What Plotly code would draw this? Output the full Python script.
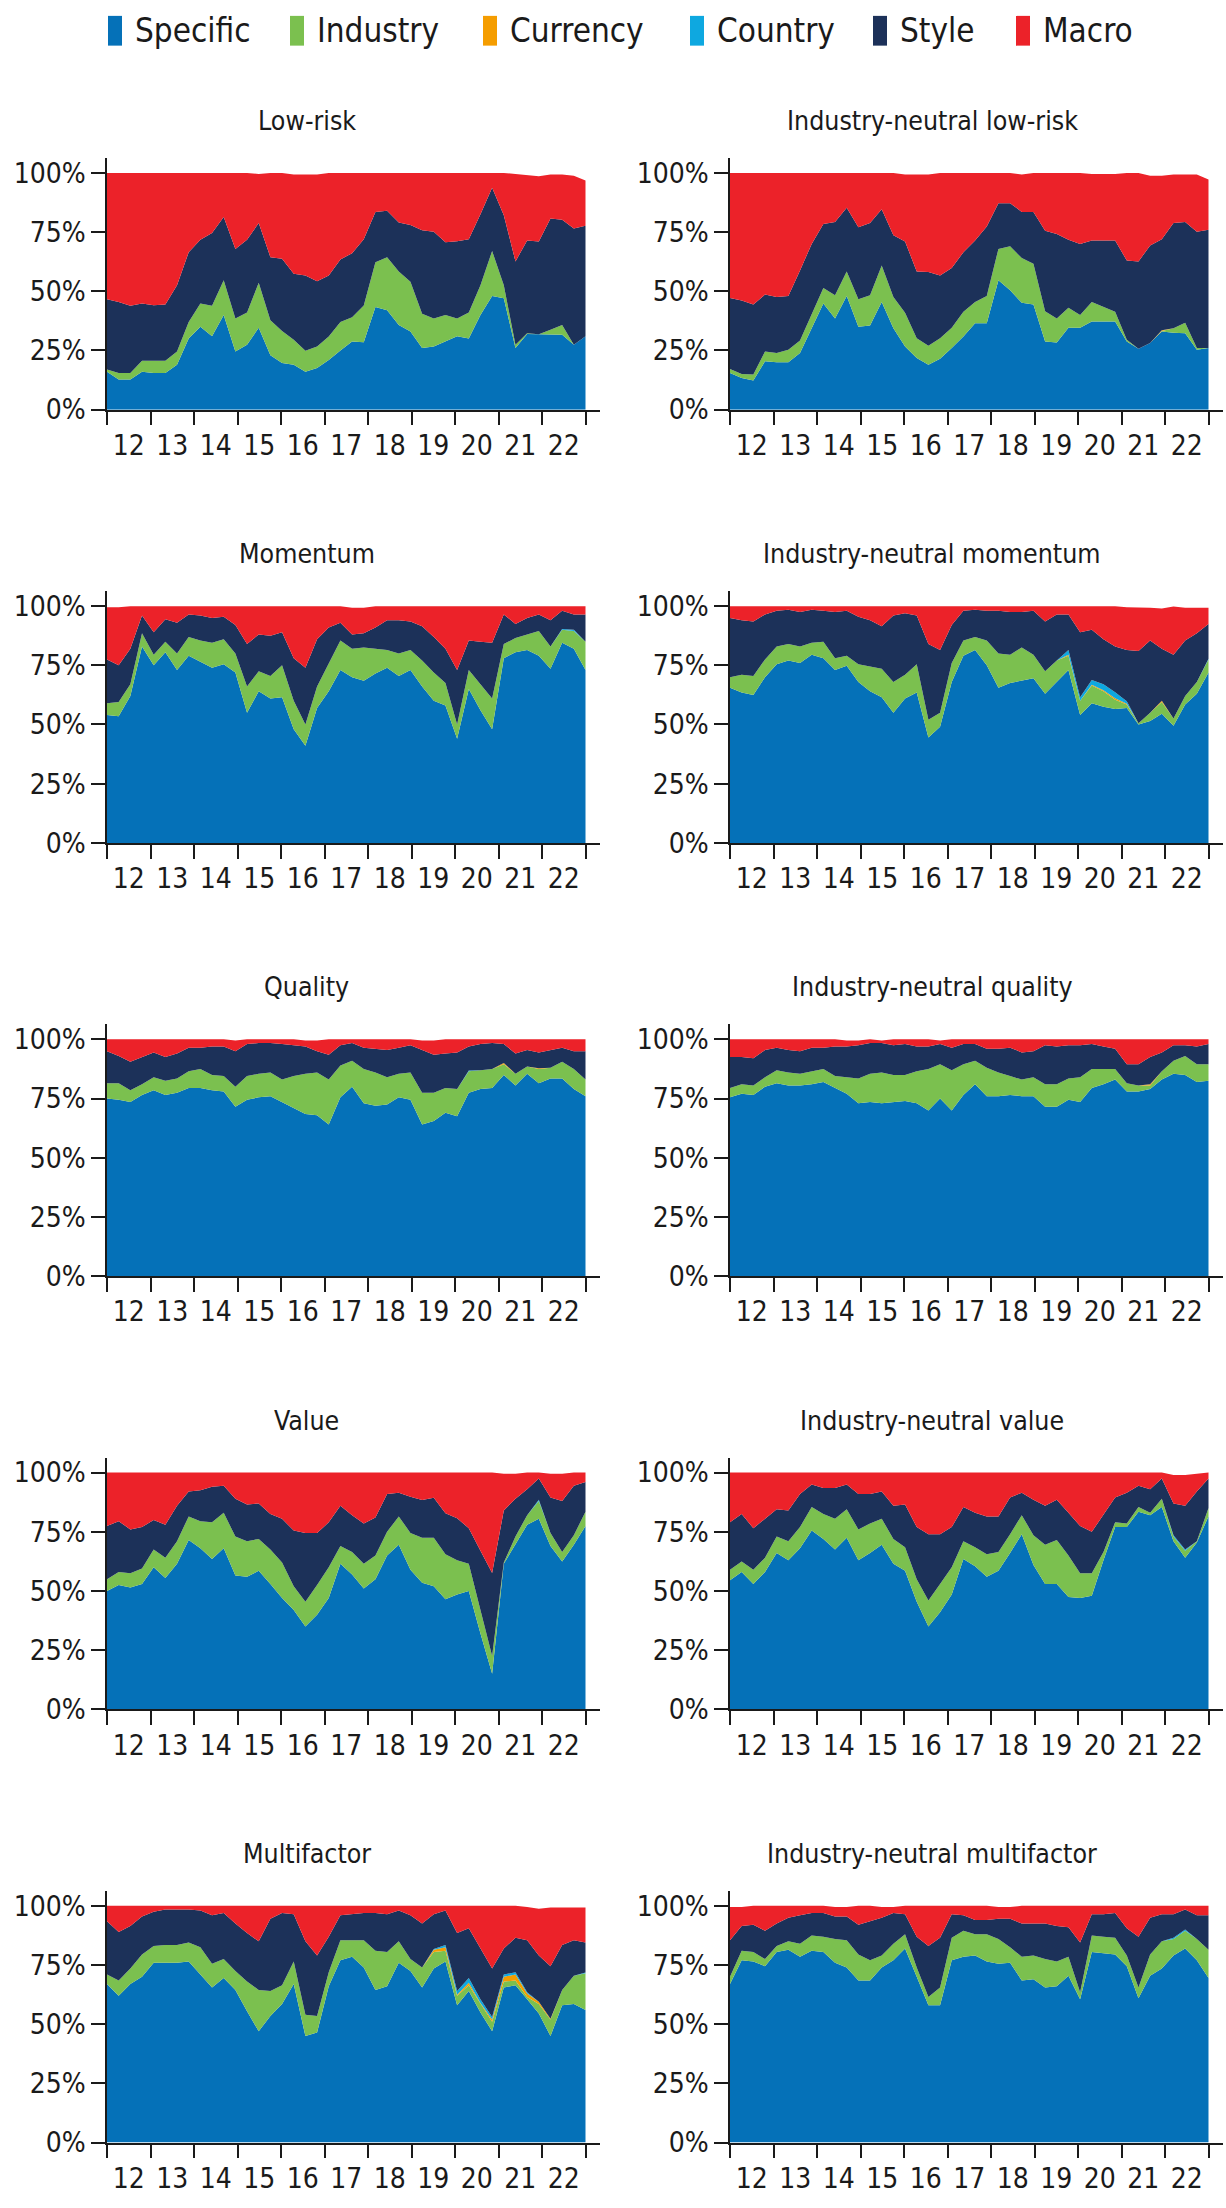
import numpy as np
import plotly.graph_objects as go

# ---------------------------------------------------------------------------
# Data: share of tracking-error variance by risk source (in %), per strategy
# ---------------------------------------------------------------------------
FACTORS = ["Specific", "Industry", "Currency", "Country", "Style", "Macro"]
FACTOR_COLORS = ["#0571B8", "#7BC04F", "#F59D00", "#0EA8E0", "#1C3159", "#EC2229"]
YEAR_LABELS = ["12", "13", "14", "15", "16", "17", "18", "19", "20", "21", "22"]
PCT_TICKS = [0, 25, 50, 75, 100]
PCT_LABELS = ["0%", "25%", "50%", "75%", "100%"]

N_OBS = 42
# observations are evenly spaced across the eleven labelled years
obs_pos = np.linspace(0, 11, N_OBS)

LOWRISK_SPECIFIC = [16.0, 12.7, 12.7, 16.0, 15.5, 15.5, 19.0, 30.0, 35.0, 31.0, 40.0, 24.6, 27.4, 34.6, 23.0, 19.7, 19.0, 16.0, 17.6, 21.0, 25.0, 28.8, 28.5, 43.4, 42.0, 35.8, 33.0, 26.0, 26.7, 29.0, 31.0, 30.0, 40.0, 48.0, 47.0, 26.0, 32.0, 31.8, 31.8, 31.6, 27.4, 31.0]
LOWRISK_INDUSTRY = [1.0, 2.8, 2.8, 4.7, 5.2, 5.2, 5.6, 7.0, 9.8, 12.9, 14.6, 13.9, 13.6, 19.0, 14.8, 13.5, 10.5, 8.9, 9.1, 9.9, 12.0, 10.2, 15.5, 18.9, 22.4, 22.6, 21.0, 14.5, 11.8, 11.0, 7.5, 11.0, 12.5, 19.0, 5.5, 1.4, 0.3, 0.0, 1.9, 4.2, 0.0, 0.0]
LOWRISK_CURRENCY = [0.0] * 42
LOWRISK_COUNTRY = [0.0] * 42
LOWRISK_STYLE = [29.6, 30.0, 28.4, 24.1, 23.4, 23.7, 27.9, 29.5, 27.0, 30.7, 26.8, 29.4, 30.8, 25.2, 26.6, 30.5, 27.9, 31.8, 27.5, 25.8, 26.4, 27.1, 28.0, 21.2, 19.6, 20.6, 24.0, 35.3, 36.6, 30.7, 32.6, 31.0, 30.0, 26.7, 29.6, 35.2, 39.1, 39.2, 47.0, 44.4, 49.1, 46.7]
LOWRISK_MACRO = [53.4, 54.5, 56.1, 55.2, 55.9, 55.6, 47.5, 33.5, 28.2, 25.4, 18.6, 32.1, 28.2, 20.7, 35.6, 36.3, 41.9, 42.6, 45.1, 43.3, 36.6, 33.9, 28.0, 16.5, 16.0, 21.0, 22.0, 24.2, 24.9, 29.3, 28.9, 28.0, 17.5, 6.3, 17.9, 36.9, 27.6, 27.6, 18.6, 19.1, 22.3, 19.1]

IN_LOWRISK_SPECIFIC = [15.5, 13.4, 12.3, 20.4, 20.0, 20.0, 23.9, 34.4, 44.8, 38.5, 48.0, 35.0, 35.5, 45.5, 34.4, 26.7, 21.8, 19.0, 21.5, 26.0, 30.9, 36.5, 36.5, 54.6, 50.4, 45.1, 44.4, 28.8, 28.4, 34.6, 34.6, 37.2, 37.2, 37.2, 28.8, 25.7, 28.1, 33.0, 32.5, 32.3, 25.3, 26.0]
IN_LOWRISK_INDUSTRY = [1.7, 1.7, 2.5, 4.2, 3.9, 5.3, 5.3, 5.6, 6.6, 9.8, 10.4, 11.6, 12.8, 15.4, 13.2, 14.2, 8.4, 8.0, 8.7, 8.6, 10.4, 9.0, 11.5, 13.3, 18.6, 18.9, 17.2, 12.8, 10.1, 8.4, 5.4, 8.3, 6.2, 4.1, 0.7, 0.0, 0.0, 0.2, 1.9, 4.4, 0.7, 0.0]
IN_LOWRISK_CURRENCY = [0.0, 0.0, 0.0, 0.0, 0.0, 0.0, 0.0, 0.0, 0.0, 0.0, 0.0, 0.0, 0.0, 0.0, 0.0, 0.0, 0.0, 0.0, 0.0, 0.0, 0.0, 0.0, 0.0, 0.0, 0.0, 0.0, 0.0, 0.0, 0.0, 0.0, 0.0, 0.0, 0.0, 0.0, 0.0, 0.0, 0.0, 0.3, 0.0, 0.0, 0.0, 0.0]
IN_LOWRISK_COUNTRY = [0.0] * 42
IN_LOWRISK_STYLE = [30.0, 31.0, 29.6, 24.0, 23.7, 22.7, 29.6, 30.0, 27.0, 31.0, 26.9, 30.4, 30.5, 23.7, 26.1, 30.1, 28.2, 31.1, 26.5, 25.2, 25.2, 25.9, 29.4, 19.3, 18.2, 19.5, 21.9, 34.0, 35.7, 28.8, 30.0, 25.9, 28.0, 30.1, 33.5, 36.9, 41.2, 38.5, 44.4, 42.6, 49.1, 50.0]
IN_LOWRISK_MACRO = [52.8, 53.9, 55.6, 51.4, 52.4, 52.0, 41.2, 30.0, 21.6, 20.7, 14.7, 23.0, 21.2, 15.4, 26.3, 28.3, 40.9, 41.2, 43.3, 40.2, 33.5, 28.6, 22.6, 12.8, 12.8, 15.8, 16.5, 24.4, 25.8, 28.2, 30.0, 28.1, 28.1, 28.1, 37.0, 37.4, 29.5, 26.8, 20.5, 20.0, 24.2, 21.2]

MOMENTUM_SPECIFIC = [54.0, 53.5, 62.0, 83.0, 75.0, 80.5, 73.0, 79.0, 76.5, 74.0, 75.5, 72.0, 55.0, 64.0, 61.0, 61.5, 48.0, 41.0, 57.0, 64.0, 73.0, 70.0, 68.5, 71.5, 74.0, 70.5, 73.0, 66.0, 60.0, 58.0, 44.0, 65.0, 56.0, 48.0, 78.0, 80.5, 81.5, 79.0, 73.5, 84.5, 82.0, 73.0]
MOMENTUM_INDUSTRY = [5.0, 6.0, 5.0, 5.5, 4.5, 4.5, 7.0, 8.0, 9.0, 10.5, 10.5, 8.0, 11.0, 8.5, 9.5, 13.5, 12.0, 9.0, 9.0, 12.0, 12.5, 12.0, 14.0, 10.5, 7.5, 9.5, 8.5, 11.0, 12.0, 9.5, 6.0, 8.0, 11.0, 13.0, 6.0, 6.0, 6.5, 10.5, 9.5, 5.5, 7.5, 12.0]
MOMENTUM_CURRENCY = [0.0] * 42
MOMENTUM_COUNTRY = [0.0, 0.0, 0.0, 0.0, 0.0, 0.0, 0.0, 0.0, 0.0, 0.0, 0.0, 0.0, 0.0, 0.0, 0.0, 0.0, 0.0, 0.0, 0.0, 0.0, 0.0, 0.0, 0.0, 0.0, 0.0, 0.0, 0.0, 0.0, 0.0, 0.0, 0.0, 0.0, 0.0, 0.0, 0.0, 0.0, 0.0, 0.0, 0.0, 0.3, 0.5, 0.0]
MOMENTUM_STYLE = [18.5, 15.5, 15.0, 7.5, 9.5, 9.5, 13.0, 9.5, 10.5, 10.5, 9.5, 12.0, 18.0, 15.5, 17.0, 14.0, 18.0, 24.0, 20.0, 15.0, 7.5, 6.0, 6.0, 9.0, 12.5, 14.0, 12.0, 14.5, 15.0, 14.5, 23.0, 12.5, 18.0, 23.5, 12.5, 6.0, 7.0, 7.0, 11.0, 7.7, 6.5, 11.5]
MOMENTUM_MACRO = [22.0, 24.5, 18.0, 4.0, 11.0, 5.5, 7.0, 3.5, 4.0, 5.0, 4.5, 8.0, 16.0, 12.0, 12.5, 11.0, 22.0, 26.0, 14.0, 9.0, 7.0, 11.3, 10.8, 9.0, 6.0, 6.0, 6.5, 8.5, 13.0, 18.0, 27.0, 14.5, 15.0, 15.5, 3.5, 7.5, 5.0, 3.5, 6.0, 2.0, 3.5, 3.5]

IN_MOMENTUM_SPECIFIC = [65.5, 63.5, 62.5, 70.0, 75.5, 77.0, 76.0, 79.5, 78.0, 73.0, 74.8, 68.0, 64.0, 61.5, 55.0, 61.0, 63.5, 44.5, 49.0, 68.0, 79.0, 81.5, 75.0, 65.5, 67.5, 68.5, 69.5, 63.0, 68.0, 73.0, 54.0, 59.0, 57.5, 56.5, 57.0, 50.0, 51.5, 54.5, 49.5, 58.5, 63.0, 72.0]
IN_MOMENTUM_INDUSTRY = [4.5, 7.5, 8.0, 7.5, 7.5, 7.0, 7.0, 5.0, 7.0, 5.0, 4.2, 7.5, 10.5, 12.0, 13.0, 10.0, 12.0, 7.5, 6.0, 8.0, 6.5, 5.5, 10.5, 14.5, 12.0, 14.0, 10.0, 9.5, 9.0, 6.0, 6.0, 7.5, 6.5, 4.0, 1.5, 0.5, 3.5, 5.0, 3.0, 3.5, 5.0, 5.5]
IN_MOMENTUM_CURRENCY = [0.0, 0.0, 0.0, 0.0, 0.0, 0.0, 0.0, 0.0, 0.0, 0.0, 0.0, 0.0, 0.0, 0.0, 0.0, 0.0, 0.0, 0.0, 0.0, 0.0, 0.0, 0.0, 0.0, 0.0, 0.0, 0.0, 0.0, 0.0, 0.0, 0.5, 0.0, 0.3, 0.5, 0.6, 0.3, 0.0, 0.0, 0.5, 0.0, 0.0, 0.0, 0.0]
IN_MOMENTUM_COUNTRY = [0.0, 0.0, 0.0, 0.0, 0.0, 0.0, 0.0, 0.0, 0.0, 0.0, 0.0, 0.0, 0.0, 0.0, 0.0, 0.0, 0.0, 0.0, 0.0, 0.0, 0.0, 0.0, 0.0, 0.0, 0.0, 0.0, 0.0, 0.0, 0.0, 2.0, 1.5, 2.0, 2.5, 2.5, 1.0, 0.0, 0.0, 0.0, 0.0, 0.0, 0.0, 0.3]
IN_MOMENTUM_STYLE = [25.0, 23.0, 23.0, 19.0, 15.0, 14.5, 14.5, 14.0, 13.0, 19.5, 19.0, 20.0, 19.5, 18.0, 28.0, 26.0, 20.5, 32.0, 26.5, 16.0, 12.5, 11.5, 12.5, 18.0, 18.0, 15.0, 18.5, 21.0, 19.5, 15.0, 27.5, 21.2, 19.0, 19.4, 21.7, 30.5, 30.5, 22.0, 27.0, 23.5, 20.5, 14.7]
IN_MOMENTUM_MACRO = [5.0, 6.0, 6.5, 3.5, 2.0, 1.5, 2.5, 1.5, 2.0, 2.5, 2.0, 4.5, 6.0, 8.5, 4.0, 3.0, 4.0, 16.0, 18.5, 8.0, 2.0, 1.5, 2.0, 2.0, 2.5, 2.5, 2.0, 6.5, 3.5, 3.5, 11.0, 10.0, 14.0, 17.0, 18.0, 18.5, 13.8, 17.0, 20.3, 13.8, 10.8, 6.8]

QUALITY_SPECIFIC = [75.0, 74.5, 73.5, 76.5, 78.5, 76.5, 77.5, 79.5, 79.5, 78.5, 78.0, 71.5, 74.5, 75.5, 76.0, 73.5, 71.0, 68.5, 68.0, 64.0, 75.5, 80.0, 73.0, 72.0, 72.5, 75.5, 74.5, 64.0, 65.5, 69.0, 67.5, 77.5, 79.0, 79.5, 85.0, 80.5, 85.5, 81.5, 83.5, 83.5, 79.0, 76.0]
QUALITY_INDUSTRY = [6.5, 7.0, 5.0, 4.5, 5.5, 6.0, 6.0, 7.0, 8.0, 6.5, 6.5, 8.5, 10.0, 10.0, 10.0, 9.5, 13.5, 17.0, 18.0, 19.0, 13.5, 11.0, 14.5, 14.0, 11.5, 10.0, 11.5, 13.5, 12.0, 10.5, 11.5, 9.0, 8.0, 8.0, 4.5, 5.0, 3.0, 6.0, 4.5, 7.0, 8.5, 7.0]
QUALITY_CURRENCY = [0.0, 0.0, 0.0, 0.0, 0.0, 0.0, 0.0, 0.0, 0.0, 0.0, 0.0, 0.0, 0.0, 0.0, 0.0, 0.0, 0.0, 0.0, 0.0, 0.0, 0.0, 0.0, 0.0, 0.0, 0.0, 0.0, 0.0, 0.0, 0.0, 0.0, 0.0, 0.0, 0.0, 0.0, 0.5, 0.0, 0.0, 0.3, 0.0, 0.0, 0.0, 0.0]
QUALITY_COUNTRY = [0.0, 0.0, 0.0, 0.0, 0.0, 0.0, 0.0, 0.0, 0.0, 0.0, 0.0, 0.0, 0.0, 0.0, 0.0, 0.0, 0.0, 0.0, 0.0, 0.0, 0.0, 0.0, 0.0, 0.0, 0.0, 0.0, 0.0, 0.0, 0.0, 0.0, 0.0, 0.3, 0.0, 0.0, 0.0, 0.0, 0.0, 0.0, 0.0, 0.0, 0.0, 0.0]
QUALITY_STYLE = [13.5, 11.5, 12.0, 11.5, 10.5, 10.0, 10.5, 10.0, 9.0, 12.0, 12.5, 15.0, 13.5, 13.0, 12.5, 15.0, 13.0, 11.5, 9.0, 10.5, 8.5, 7.5, 9.0, 10.0, 11.5, 11.0, 11.5, 18.0, 16.0, 14.5, 15.5, 10.2, 11.0, 11.0, 8.0, 8.5, 7.0, 6.7, 7.5, 6.0, 7.5, 12.0]
QUALITY_MACRO = [5.0, 7.0, 9.5, 7.5, 5.5, 7.5, 6.0, 3.5, 3.5, 3.0, 3.0, 4.5, 2.0, 1.5, 1.5, 2.0, 2.5, 2.5, 4.5, 6.5, 2.5, 1.5, 3.5, 4.0, 4.5, 3.5, 2.5, 4.0, 6.0, 6.0, 5.5, 3.0, 2.0, 1.5, 2.0, 6.0, 4.5, 5.5, 4.5, 3.5, 5.0, 5.0]

IN_QUALITY_SPECIFIC = [75.5, 77.0, 76.5, 80.0, 81.5, 80.5, 80.5, 81.0, 82.0, 79.5, 77.0, 73.0, 73.5, 73.0, 73.5, 74.0, 73.0, 70.0, 75.0, 70.0, 76.5, 81.0, 76.0, 76.0, 76.5, 76.0, 76.0, 71.5, 71.5, 74.5, 73.5, 79.5, 81.0, 83.0, 78.0, 78.0, 79.0, 83.0, 85.5, 85.0, 82.0, 82.5]
IN_QUALITY_INDUSTRY = [4.0, 4.0, 4.0, 4.0, 5.5, 5.5, 5.0, 5.5, 5.5, 5.0, 7.0, 10.5, 12.0, 13.0, 11.5, 11.0, 13.5, 17.5, 14.5, 17.0, 13.0, 10.0, 12.0, 10.0, 8.0, 7.0, 8.0, 9.5, 9.5, 9.0, 10.5, 8.0, 6.5, 4.5, 3.5, 2.5, 1.5, 3.5, 5.5, 8.0, 7.5, 7.0]
IN_QUALITY_CURRENCY = [0.0, 0.0, 0.0, 0.0, 0.0, 0.0, 0.0, 0.0, 0.0, 0.0, 0.0, 0.0, 0.0, 0.0, 0.0, 0.0, 0.0, 0.0, 0.0, 0.0, 0.0, 0.0, 0.0, 0.0, 0.0, 0.0, 0.0, 0.0, 0.0, 0.0, 0.0, 0.0, 0.0, 0.0, 0.0, 0.0, 0.5, 0.0, 0.0, 0.0, 0.0, 0.0]
IN_QUALITY_COUNTRY = [0.0] * 42
IN_QUALITY_STYLE = [13.0, 11.5, 11.5, 11.5, 9.5, 9.5, 9.5, 10.0, 9.0, 12.5, 13.0, 14.0, 13.0, 12.5, 12.5, 13.0, 10.5, 9.5, 8.5, 9.5, 8.5, 7.0, 8.0, 10.0, 12.0, 11.5, 11.0, 16.5, 16.0, 14.0, 13.5, 10.5, 9.5, 8.5, 8.0, 9.0, 11.5, 8.0, 6.5, 4.5, 7.5, 8.5]
IN_QUALITY_MACRO = [7.5, 7.5, 8.0, 4.5, 3.5, 4.5, 5.0, 3.5, 3.5, 3.0, 2.5, 2.0, 1.5, 1.0, 2.5, 2.0, 3.0, 3.0, 1.5, 3.5, 2.0, 2.0, 4.0, 4.0, 3.5, 5.5, 5.0, 2.5, 3.0, 2.5, 2.5, 2.0, 3.0, 4.0, 10.5, 10.5, 7.5, 5.5, 2.5, 2.5, 3.0, 2.0]

VALUE_SPECIFIC = [50.0, 52.5, 51.5, 53.0, 60.0, 55.5, 61.5, 71.5, 68.0, 63.5, 68.0, 56.5, 56.0, 58.5, 53.0, 47.0, 42.0, 35.0, 40.0, 47.0, 61.5, 57.0, 51.0, 55.0, 65.0, 69.5, 59.0, 53.5, 52.0, 46.5, 48.5, 50.0, 32.0, 15.0, 61.5, 70.0, 78.0, 80.5, 69.0, 62.5, 69.5, 77.5]
VALUE_INDUSTRY = [5.0, 5.5, 6.0, 6.5, 7.5, 8.5, 9.5, 10.0, 11.5, 15.5, 15.0, 16.5, 15.0, 13.5, 14.5, 15.0, 10.0, 10.5, 12.5, 13.0, 7.5, 9.5, 10.5, 10.0, 10.0, 12.0, 15.5, 19.0, 20.5, 19.0, 14.5, 11.5, 10.0, 7.5, 0.5, 3.0, 4.0, 7.5, 5.5, 4.0, 4.0, 6.0]
VALUE_CURRENCY = [0.0] * 42
VALUE_COUNTRY = [0.0, 0.0, 0.0, 0.0, 0.0, 0.0, 0.0, 0.0, 0.0, 0.0, 0.0, 0.0, 0.0, 0.0, 0.0, 0.0, 0.0, 0.0, 0.0, 0.0, 0.0, 0.0, 0.0, 0.0, 0.0, 0.0, 0.0, 0.0, 0.0, 0.0, 0.0, 0.0, 0.0, 0.0, 0.0, 0.0, 0.0, 0.5, 0.0, 0.0, 0.0, 0.0]
VALUE_STYLE = [22.5, 21.5, 18.5, 17.5, 12.5, 14.0, 15.0, 10.5, 13.0, 15.0, 11.5, 16.0, 15.5, 15.0, 15.0, 18.5, 23.5, 29.0, 22.0, 19.0, 17.0, 15.5, 17.0, 16.0, 16.0, 10.0, 15.3, 15.9, 16.9, 17.3, 17.7, 15.0, 25.0, 35.1, 22.0, 16.0, 11.0, 9.0, 15.0, 21.5, 21.0, 12.5]
VALUE_MACRO = [22.5, 20.5, 24.0, 23.0, 20.0, 22.0, 14.0, 8.0, 7.5, 6.0, 5.5, 11.0, 13.5, 13.0, 17.5, 19.5, 24.5, 25.5, 25.5, 21.0, 14.0, 18.0, 21.5, 19.0, 9.0, 8.5, 10.2, 11.6, 10.6, 17.2, 19.3, 23.5, 33.0, 42.4, 15.5, 10.5, 7.0, 2.5, 10.0, 11.5, 5.5, 4.0]

IN_VALUE_SPECIFIC = [54.5, 58.0, 53.0, 58.0, 66.0, 63.0, 68.0, 75.5, 72.0, 67.5, 72.5, 63.0, 66.0, 69.5, 61.5, 58.5, 45.5, 35.0, 41.0, 48.5, 63.5, 60.5, 56.0, 58.5, 66.0, 74.0, 61.0, 53.0, 53.0, 47.5, 47.0, 48.0, 63.0, 77.0, 77.0, 83.5, 82.0, 85.5, 71.0, 64.0, 70.5, 81.5]
IN_VALUE_INDUSTRY = [4.5, 4.5, 6.0, 6.0, 7.0, 8.0, 9.0, 10.0, 10.5, 13.0, 12.0, 13.0, 12.5, 11.0, 10.5, 10.0, 9.5, 11.0, 12.0, 11.5, 7.5, 8.0, 9.5, 8.0, 8.0, 8.0, 12.5, 16.5, 18.5, 17.5, 10.5, 9.5, 3.5, 2.0, 1.5, 2.0, 1.0, 3.5, 2.0, 3.0, 0.5, 3.5]
IN_VALUE_CURRENCY = [0.0] * 42
IN_VALUE_COUNTRY = [0.0, 0.0, 0.0, 0.0, 0.0, 0.0, 0.0, 0.0, 0.0, 0.0, 0.0, 0.0, 0.0, 0.0, 0.0, 0.0, 0.0, 0.0, 0.0, 0.0, 0.0, 0.0, 0.0, 0.0, 0.0, 0.0, 0.0, 0.0, 0.0, 0.0, 0.0, 0.0, 0.0, 0.0, 0.0, 0.0, 0.0, 0.0, 0.5, 0.5, 0.0, 0.0]
IN_VALUE_STYLE = [20.0, 20.0, 17.5, 16.5, 11.5, 13.0, 14.0, 9.5, 11.0, 13.0, 10.5, 15.0, 12.5, 11.5, 14.0, 18.0, 22.0, 28.0, 21.0, 17.0, 14.5, 14.5, 16.0, 15.0, 15.5, 9.5, 15.0, 16.5, 17.0, 18.0, 20.0, 17.5, 15.5, 10.5, 13.0, 9.0, 10.0, 8.5, 13.5, 18.5, 21.0, 12.5]
IN_VALUE_MACRO = [21.0, 17.5, 23.5, 19.5, 15.5, 16.0, 9.0, 5.0, 6.5, 6.5, 5.0, 9.0, 9.0, 8.0, 14.0, 13.5, 23.0, 26.0, 26.0, 23.0, 14.5, 17.0, 18.5, 18.5, 10.5, 8.5, 11.5, 14.0, 11.5, 17.0, 22.5, 25.0, 18.0, 10.5, 8.2, 5.5, 6.7, 2.5, 12.0, 13.0, 7.5, 2.5]

MULTI_SPECIFIC = [67.0, 62.0, 67.0, 70.0, 76.0, 76.0, 76.0, 76.5, 71.0, 65.5, 69.5, 64.5, 55.5, 47.0, 53.5, 58.5, 67.0, 45.0, 46.5, 66.0, 77.0, 78.5, 74.0, 64.5, 66.0, 76.0, 72.5, 65.5, 73.5, 76.5, 58.0, 64.0, 55.0, 47.0, 65.5, 66.5, 60.5, 54.5, 45.0, 58.0, 58.5, 56.0]
MULTI_INDUSTRY = [4.0, 6.5, 6.5, 9.5, 7.0, 7.5, 7.5, 8.0, 11.5, 10.0, 8.0, 8.0, 12.5, 17.5, 10.5, 8.0, 9.5, 9.0, 7.0, 6.0, 8.5, 7.0, 11.5, 16.5, 14.5, 9.0, 5.0, 8.5, 7.0, 4.5, 4.0, 2.5, 3.5, 4.0, 2.5, 2.0, 1.0, 4.0, 7.0, 6.5, 12.0, 15.5]
MULTI_CURRENCY = [0.0, 0.0, 0.0, 0.0, 0.0, 0.0, 0.0, 0.0, 0.0, 0.0, 0.0, 0.0, 0.0, 0.0, 0.0, 0.0, 0.0, 0.0, 0.0, 0.0, 0.0, 0.0, 0.0, 0.0, 0.0, 0.0, 0.0, 0.0, 1.0, 1.5, 0.5, 1.0, 0.5, 1.0, 2.0, 2.5, 1.5, 1.0, 0.3, 0.0, 0.0, 0.0]
MULTI_COUNTRY = [0.0, 0.0, 0.0, 0.0, 0.0, 0.0, 0.0, 0.0, 0.0, 0.0, 0.0, 0.0, 0.0, 0.0, 0.0, 0.0, 0.0, 0.0, 0.0, 0.0, 0.0, 0.0, 0.0, 0.0, 0.0, 0.0, 0.0, 0.0, 0.3, 1.0, 1.5, 2.0, 1.5, 1.0, 1.0, 1.0, 0.5, 0.0, 0.0, 0.0, 0.0, 0.3]
MULTI_STYLE = [22.5, 20.5, 18.0, 16.0, 14.5, 15.0, 15.0, 14.0, 15.5, 20.5, 19.5, 20.0, 20.5, 20.5, 30.5, 30.5, 20.0, 31.0, 25.5, 15.0, 10.5, 11.0, 11.5, 16.0, 16.0, 13.0, 18.5, 18.5, 14.7, 14.5, 24.5, 21.0, 21.5, 20.5, 11.0, 14.5, 22.0, 19.5, 22.2, 19.0, 15.0, 12.7]
MULTI_MACRO = [6.5, 11.0, 8.5, 4.5, 2.5, 1.5, 1.5, 1.5, 2.0, 4.0, 3.0, 7.5, 11.5, 15.0, 5.5, 3.0, 3.5, 15.0, 21.0, 13.0, 4.0, 3.5, 3.0, 3.0, 3.5, 2.0, 4.0, 7.5, 3.5, 2.0, 11.5, 9.5, 18.0, 26.5, 18.0, 13.5, 14.0, 19.8, 24.8, 15.8, 13.8, 14.8]

IN_MULTI_SPECIFIC = [67.0, 77.0, 76.5, 74.5, 80.5, 81.5, 78.5, 81.0, 80.5, 76.0, 74.0, 68.5, 68.5, 74.0, 77.0, 82.0, 70.0, 58.0, 58.0, 77.0, 78.5, 79.0, 76.5, 75.5, 76.0, 68.5, 69.0, 65.5, 66.0, 70.5, 60.5, 80.5, 80.0, 79.5, 74.5, 61.0, 70.5, 73.5, 79.0, 82.0, 77.0, 69.5]
IN_MULTI_INDUSTRY = [3.0, 4.0, 4.0, 3.0, 2.5, 3.5, 5.5, 6.5, 6.5, 10.0, 11.5, 11.0, 8.5, 5.0, 7.0, 6.0, 4.0, 3.5, 7.5, 9.5, 11.0, 9.0, 11.5, 10.5, 6.5, 10.0, 10.0, 12.0, 10.5, 8.0, 3.0, 7.0, 7.0, 7.0, 4.5, 4.5, 9.0, 11.5, 7.0, 7.5, 9.0, 12.0]
IN_MULTI_CURRENCY = [0.0] * 42
IN_MULTI_COUNTRY = [0.0, 0.0, 0.0, 0.0, 0.0, 0.0, 0.0, 0.0, 0.0, 0.0, 0.0, 0.0, 0.0, 0.0, 0.0, 0.0, 0.0, 0.0, 0.0, 0.0, 0.0, 0.0, 0.0, 0.0, 0.0, 0.0, 0.0, 0.0, 0.0, 0.0, 0.0, 0.0, 0.0, 0.0, 0.0, 0.0, 0.0, 0.0, 0.5, 0.5, 0.0, 0.0]
IN_MULTI_STYLE = [15.5, 10.5, 11.5, 12.0, 9.5, 10.0, 12.0, 9.5, 10.0, 9.5, 10.0, 12.5, 16.5, 16.0, 13.0, 8.5, 13.0, 21.5, 21.0, 10.0, 6.5, 6.0, 6.0, 8.5, 12.0, 14.0, 13.5, 15.0, 15.0, 12.5, 21.0, 9.0, 9.5, 10.5, 11.5, 21.5, 15.5, 11.5, 10.0, 8.5, 10.0, 14.5]
IN_MULTI_MACRO = [14.0, 8.0, 8.0, 10.5, 7.5, 5.0, 4.0, 3.0, 3.0, 4.0, 4.0, 8.0, 6.5, 4.5, 2.5, 3.5, 13.0, 17.0, 13.5, 3.5, 4.0, 6.0, 6.0, 5.0, 5.0, 7.5, 7.5, 7.5, 8.5, 9.0, 15.5, 3.5, 3.5, 3.0, 9.5, 13.0, 5.0, 3.5, 3.5, 1.5, 4.0, 4.0]

PANELS = [
    ("Low-risk", [LOWRISK_SPECIFIC, LOWRISK_INDUSTRY, LOWRISK_CURRENCY, LOWRISK_COUNTRY, LOWRISK_STYLE, LOWRISK_MACRO]),
    ("Industry-neutral low-risk", [IN_LOWRISK_SPECIFIC, IN_LOWRISK_INDUSTRY, IN_LOWRISK_CURRENCY, IN_LOWRISK_COUNTRY, IN_LOWRISK_STYLE, IN_LOWRISK_MACRO]),
    ("Momentum", [MOMENTUM_SPECIFIC, MOMENTUM_INDUSTRY, MOMENTUM_CURRENCY, MOMENTUM_COUNTRY, MOMENTUM_STYLE, MOMENTUM_MACRO]),
    ("Industry-neutral momentum", [IN_MOMENTUM_SPECIFIC, IN_MOMENTUM_INDUSTRY, IN_MOMENTUM_CURRENCY, IN_MOMENTUM_COUNTRY, IN_MOMENTUM_STYLE, IN_MOMENTUM_MACRO]),
    ("Quality", [QUALITY_SPECIFIC, QUALITY_INDUSTRY, QUALITY_CURRENCY, QUALITY_COUNTRY, QUALITY_STYLE, QUALITY_MACRO]),
    ("Industry-neutral quality", [IN_QUALITY_SPECIFIC, IN_QUALITY_INDUSTRY, IN_QUALITY_CURRENCY, IN_QUALITY_COUNTRY, IN_QUALITY_STYLE, IN_QUALITY_MACRO]),
    ("Value", [VALUE_SPECIFIC, VALUE_INDUSTRY, VALUE_CURRENCY, VALUE_COUNTRY, VALUE_STYLE, VALUE_MACRO]),
    ("Industry-neutral value", [IN_VALUE_SPECIFIC, IN_VALUE_INDUSTRY, IN_VALUE_CURRENCY, IN_VALUE_COUNTRY, IN_VALUE_STYLE, IN_VALUE_MACRO]),
    ("Multifactor", [MULTI_SPECIFIC, MULTI_INDUSTRY, MULTI_CURRENCY, MULTI_COUNTRY, MULTI_STYLE, MULTI_MACRO]),
    ("Industry-neutral multifactor", [IN_MULTI_SPECIFIC, IN_MULTI_INDUSTRY, IN_MULTI_CURRENCY, IN_MULTI_COUNTRY, IN_MULTI_STYLE, IN_MULTI_MACRO]),
]

# ---------------------------------------------------------------------------
# Page geometry (pixels on a 1226 x 2208 page)
# ---------------------------------------------------------------------------
W, H = 1226, 2208
FONT = "DejaVu Sans Condensed, Liberation Sans Narrow, Arial Narrow, Roboto, sans-serif"
INK = "#1a1a1a"
TICK_SIZE = 28
TITLE_SIZE = 26.5
LEGEND_SIZE = 33

COL_PX = [(107, 600), (730, 1223)]        # plot-area left/right edges per column
YEAR_PX = 43.5                            # width of one labelled year
ROW_100_PX = [173.3, 610.1, 1046.9, 1483.7, 1920.5]   # y of the 100% line per row
SPAN_PX = 238.7                           # 0% .. 100%
HEAD_PX = 15                              # axis line above 100%
TITLE_X_PX = [307, 932]
TITLE_DY_PX = 53

x_top = (COL_PX[0][1] - COL_PX[0][0]) / YEAR_PX
y_top = 100 * (SPAN_PX + HEAD_PX) / SPAN_PX


def px_x(v):
    return v / W


def px_y(v):
    return 1 - v / H


fig = go.Figure()
annotations = []

for k, (title, series) in enumerate(PANELS):
    row, col = divmod(k, 2)
    ax = "" if k == 0 else str(k + 1)
    for name, color, vals in zip(FACTORS, FACTOR_COLORS, series):
        fig.add_trace(go.Scatter(
            x=obs_pos, y=vals, name=name, mode="lines",
            stackgroup=f"panel{k}", line=dict(width=0, color=color),
            fillcolor=color, showlegend=False, hoverinfo="skip",
            xaxis=f"x{ax}", yaxis=f"y{ax}",
        ))

    x0, x1 = COL_PX[col]
    y100 = ROW_100_PX[row]
    # year labels sit mid-year; the visible tick marks fall on year boundaries
    fig.layout[f"xaxis{ax}"] = dict(
        domain=[px_x(x0), px_x(x1)], anchor=f"y{ax}",
        range=[0, x_top], showgrid=False, zeroline=False,
        showline=True, linecolor=INK, linewidth=1.5,
        tickmode="array", tickvals=[i + 0.5 for i in range(len(YEAR_LABELS))],
        ticktext=YEAR_LABELS, ticks="", ticklabelstandoff=10,
        minor=dict(tickmode="array", tickvals=list(range(len(YEAR_LABELS) + 1)),
                   ticks="outside", ticklen=14, tickwidth=1.5, tickcolor=INK),
        tickfont=dict(family=FONT, size=TICK_SIZE, color=INK),
    )
    fig.layout[f"yaxis{ax}"] = dict(
        domain=[px_y(y100 + SPAN_PX), px_y(y100 - HEAD_PX)], anchor=f"x{ax}",
        range=[0, y_top], showgrid=False, zeroline=False,
        showline=True, linecolor=INK, linewidth=1.5,
        tickmode="array", tickvals=PCT_TICKS, ticktext=PCT_LABELS,
        ticks="outside", ticklen=14, tickwidth=1.5, tickcolor=INK,
        tickfont=dict(family=FONT, size=TICK_SIZE, color=INK),
    )
    annotations.append(dict(
        text=title, xref="paper", yref="paper",
        x=px_x(TITLE_X_PX[col]), y=px_y(y100 - TITLE_DY_PX),
        xanchor="center", yanchor="middle", showarrow=False,
        font=dict(family=FONT, size=TITLE_SIZE, color=INK),
    ))

# Legend row: colour swatch followed by the factor name
LEGEND_SWATCH_X = [108, 290, 483, 690, 873, 1016]
shapes = []
for name, color, sx in zip(FACTORS, FACTOR_COLORS, LEGEND_SWATCH_X):
    shapes.append(dict(type="rect", xref="paper", yref="paper",
                       x0=px_x(sx), x1=px_x(sx + 14), y0=px_y(45), y1=px_y(15),
                       fillcolor=color, line=dict(width=0)))
    annotations.append(dict(
        text=name, xref="paper", yref="paper",
        x=px_x(sx + 25), y=px_y(30), xanchor="left", yanchor="middle",
        showarrow=False, font=dict(family=FONT, size=LEGEND_SIZE, color=INK),
    ))

fig.update_layout(
    width=W, height=H, margin=dict(l=0, r=0, t=0, b=0),
    paper_bgcolor="white", plot_bgcolor="white",
    annotations=annotations, shapes=shapes, showlegend=False,
    font=dict(family=FONT, color=INK),
)

fig.write_html("out.html")
